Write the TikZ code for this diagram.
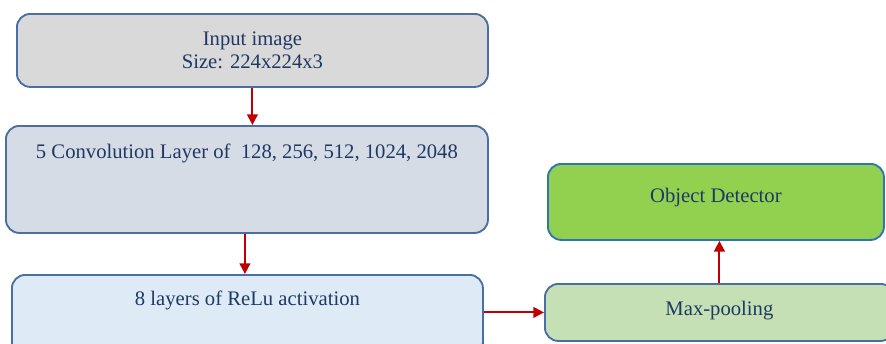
\documentclass[tikz,border=0pt]{standalone}
\usepackage{fontspec}
\setmainfont{Liberation Serif}
\usepackage{xcolor}
\usetikzlibrary{arrows.meta,positioning}

\definecolor{boxline}{HTML}{4A6FA5}
\definecolor{detline}{HTML}{2E75B6}
\definecolor{txtblue}{HTML}{1F3864}
\definecolor{arrred}{HTML}{C00000}
\definecolor{graybox}{HTML}{D9D9D9}
\definecolor{convbox}{HTML}{D6DCE5}
\definecolor{relubox}{HTML}{DEEBF7}
\definecolor{poolbox}{HTML}{C5E0B4}
\definecolor{detbox}{HTML}{92D050}

\begin{document}
\begin{tikzpicture}[
  x=0.75pt,y=-0.75pt,
  layer/.style={
    rectangle,draw=boxline,line width=1.4pt,rounded corners=10pt,
    inner sep=0pt,anchor=north west,align=center,
    text=txtblue,font=\fontsize{15.5}{17.25}\selectfont
  },
  arrow/.style={-{Triangle[length=8pt,width=8pt]},line width=1.5pt,draw=arrred}
]
\useasboundingbox (0,0) rectangle (886,343);

\node[layer,fill=graybox,minimum width=353.25pt,text height=41.25pt,text depth=13.5pt]
  (input) at (16,13) {Input image\\Size: 224x224x3};
\node[layer,fill=convbox,minimum width=361.5pt,text height=24.75pt,text depth=55.5pt]
  (conv) at (5,125) {5 Convolution Layer of ~128, 256, 512, 1024, 2048};
\node[layer,fill=relubox,minimum width=353.25pt,text height=23.25pt,text depth=37.5pt]
  (relu) at (11,274) {8 layers of ReLu activation};
\node[layer,fill=poolbox,minimum width=261.75pt,text height=24pt,text depth=18.75pt]
  (pool) at (544,283) {Max-pooling};
\node[layer,fill=detbox,draw=detline,minimum width=252pt,text height=29pt,text depth=28pt]
  (det) at (547,163) {Object Detector};

\draw[arrow] (input.south) -- (input.south |- conv.north);
\draw[arrow] ([xshift=-1.5pt]conv.south) -- ([xshift=-1.5pt]conv.south |- relu.north);
\draw[arrow] (relu.east |- pool.west) -- (pool.west);
\draw[arrow] (pool.north) -- (pool.north |- det.south);

\end{tikzpicture}
\end{document}
